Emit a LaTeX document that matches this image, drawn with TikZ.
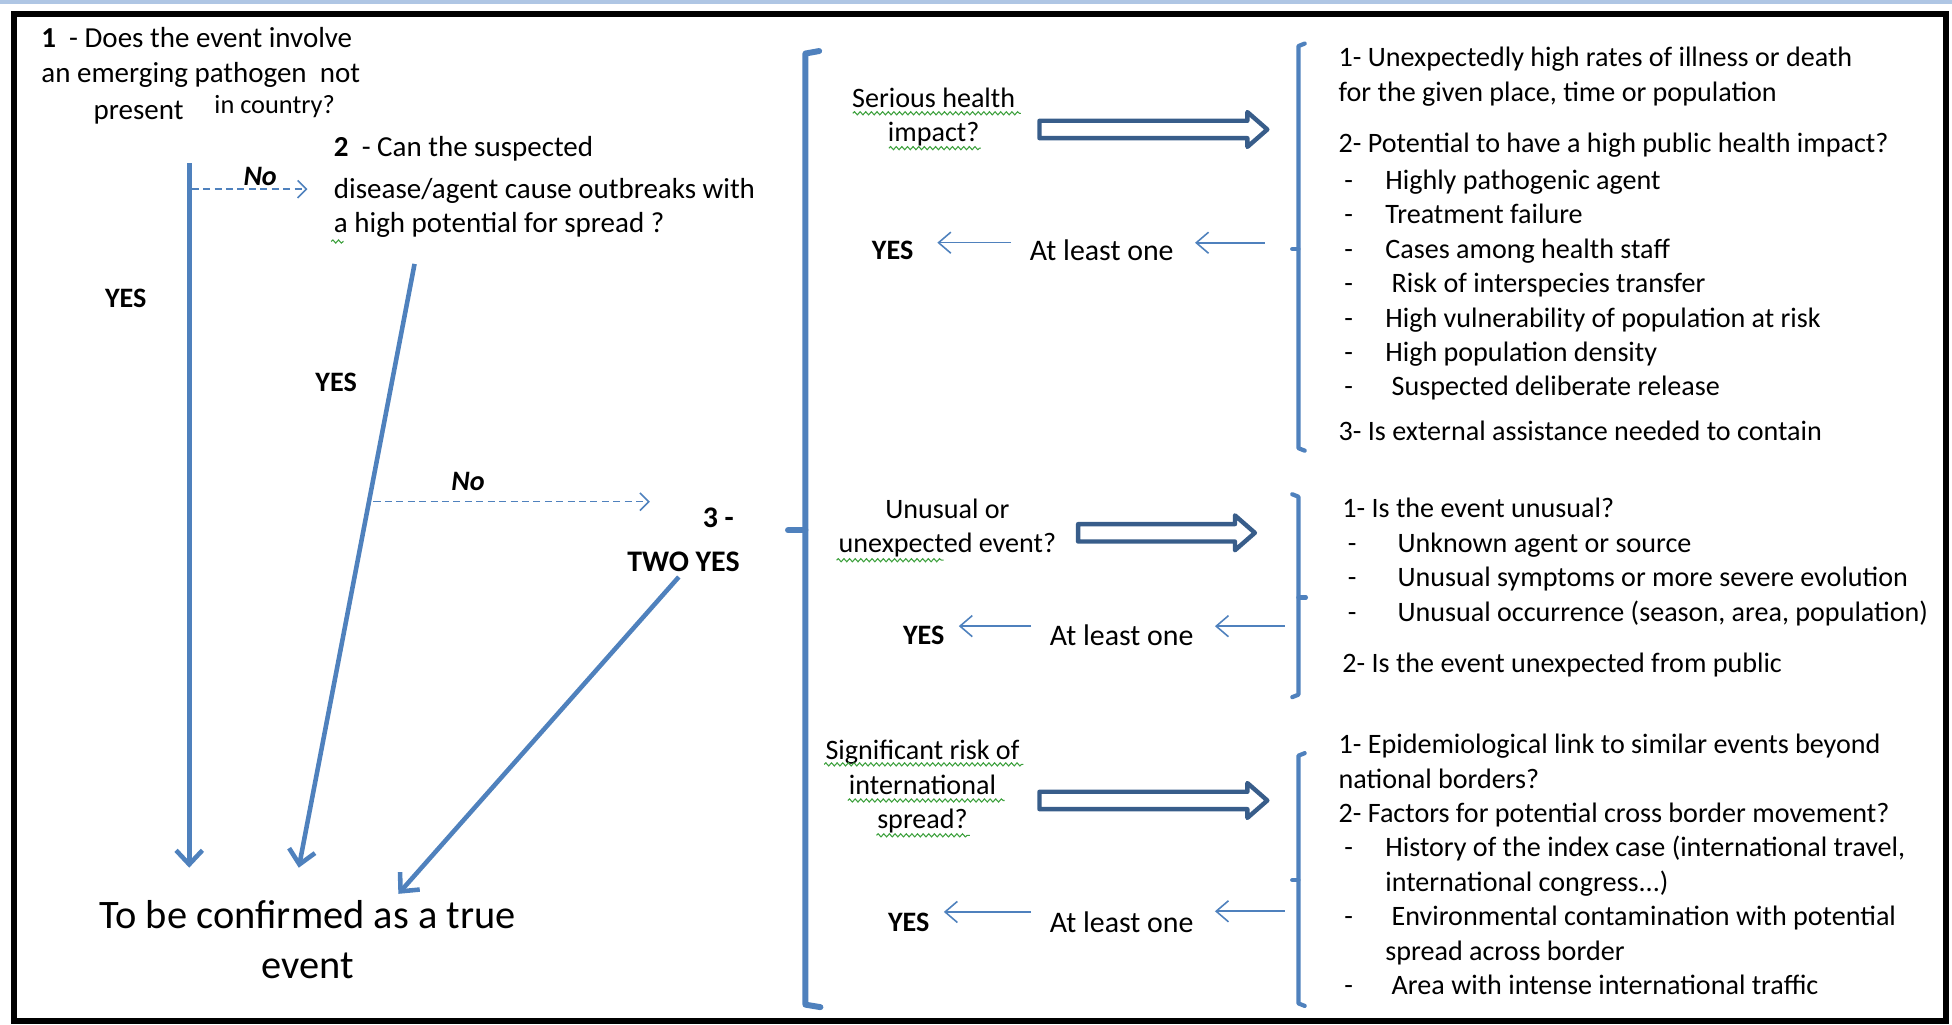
\documentclass[tikz,border=0pt]{standalone}
\usepackage{fontspec}
\setmainfont{Carlito}
\usepackage{xcolor}
\usepackage{tikz}
\usetikzlibrary{arrows.meta}
\usetikzlibrary{decorations.pathmorphing}

\definecolor{myblue}{RGB}{79,129,189}
\definecolor{darkblue}{RGB}{56,93,138}
\definecolor{spellgreen}{RGB}{60,160,60}
\definecolor{topblue}{RGB}{175,198,228}
\newcommand{\lstdash}[1][23.4pt]{\hspace*{3.2pt}\makebox[#1][l]{-}}

\begin{document}
\begin{tikzpicture}[x=0.0249cm,y=-0.0249cm,
	txt/.style={inner sep=0pt,font=\fontsize{16}{19.6}\selectfont},
	lst/.style={txt,anchor=base west,align=left},
	mid/.style={txt,align=center},
	bld/.style={inner sep=0pt,font=\fontsize{16}{19.6}\selectfont\bfseries},
	no/.style={inner sep=0pt,font=\fontsize{16}{19.6}\selectfont\bfseries\itshape},
	bluearrow/.style={draw=myblue,line width=2.6pt,-{Straight Barb[length=8pt,width=15pt]}},
	dasharrow/.style={draw=myblue,line width=0.9pt,dash pattern=on 4pt off 2.5pt,-{Straight Barb[length=5pt,width=10pt]}},
	thinarrow/.style={draw=myblue,line width=0.9pt,-{Straight Barb[length=7pt,width=12pt]}},
	hollow/.style={draw=darkblue,line width=2.5pt,fill=white,line join=round},
	bracket/.style={draw=myblue,line width=2.4pt,line cap=round,line join=round},
	squiggle/.style={draw=spellgreen,line width=0.6pt,decorate,decoration={snake,amplitude=0.9pt,segment length=3.2pt}}]
	\useasboundingbox (0,0) rectangle (1568,823);
	% frame
	\draw[topblue,line width=2pt] (0,1.4) -- (1568,1.4);
	\draw[line width=3.2pt] (11,11) rectangle (1563,820);

	% left part: questions 1 and 2 (base = last line)
	\node[lst,font=\fontsize{16.5}{19.8}\selectfont] (q1) at (33,66) {\textbf{1}\ \ - Does the event involve\\an emerging pathogen\ \ not};
	\node[lst,font=\fontsize{16.5}{19.8}\selectfont] (q1b) at (75,96) {present};
	\node[lst,font=\fontsize{15}{18}\selectfont] (q1c) at (172,91) {in country?};
	\node[lst,font=\fontsize{16.5}{19.8}\selectfont] (q2) at (268,187) {\textbf{2}\ \ - Can the suspected\\[3.6pt]disease/agent cause outbreaks with\\a high potential for spread ?};
	\node[bld] (yes1) at (101,240) {YES};
	\node[bld] (yes2) at (270,307) {YES};
	\node[no] (no1) at (209,142) {No};
	\node[no] (no2) at (376,387) {No};
	\node[bld,font=\fontsize{17}{20}\selectfont\bfseries] (q3) at (577,416) {3 -};
	\node[bld,font=\fontsize{17}{20}\selectfont\bfseries] (twoyes) at (549,451) {TWO YES};
	\node[txt,align=center,font=\fontsize{23}{28.3}\selectfont] (confirm) at (247,755) {To be confirmed as a true\\event};

	\coordinate (s1) at (152,131);
	\coordinate (e1) at (152,697);
	\coordinate (s2) at (333,212);
	\coordinate (e2) at (240,697);
	\coordinate (e3) at (320,718);
	\coordinate (n1) at (154,152);
	\coordinate (m1) at (247,152);
	\coordinate (n2) at (300,403);
	\coordinate (m2) at (522,403);
	\draw[bluearrow] (s1) -- (e1);
	\draw[bluearrow] (s2) -- (e2);
	\draw[bluearrow,shorten <=4pt] (twoyes.south) -- (e3);
	\draw[dasharrow] (n1) -- (m1);
	\draw[dasharrow] (n2) -- (m2);
	\draw[squiggle] (266,194) -- (276,194);

	% big bracket
	\draw[bracket,line width=3.4pt] (658,41) -- (647,43) -- (647,807) -- (659,809);
	\draw[bracket,line width=3.4pt] (647,426) -- (633,426);

	% criteria questions
	\node[mid] (crit1) at (750,94) {Serious health\\impact?};
	\node[mid] (crit2) at (761,424) {Unusual or\\unexpected event?};
	\node[mid] (crit3) at (741,632) {Significant risk of\\international\\spread?};
	\draw[squiggle] (685,91) -- (820,91);
	\draw[squiggle] (714,119) -- (788,119);
	\draw[squiggle] (672,450) -- (758,450);
	\draw[squiggle] (662,614) -- (822,614);
	\draw[squiggle] (681,643) -- (807,643);
	\draw[squiggle] (704,671) -- (779,671);

	\foreach \xa/\xb/\ya in {835/1018/104, 866/1008/428, 835/1018/643}
		\draw[hollow] (\xa,\ya-7) -- (\xb-16,\ya-7) -- (\xb-16,\ya-14) -- (\xb,\ya) -- (\xb-16,\ya+14) -- (\xb-16,\ya+7) -- (\xa,\ya+7) -- cycle;

	\node[bld] (yesa) at (717,201) {YES};
	\node[bld] (yesb) at (742,510) {YES};
	\node[bld] (yesc) at (730,741) {YES};
	\node[txt,font=\fontsize{17}{20}\selectfont] (atla) at (885,201) {At least one};
	\node[txt,font=\fontsize{17}{20}\selectfont] (atlb) at (901,510) {At least one};
	\node[txt,font=\fontsize{17}{20}\selectfont] (atlc) at (901,741) {At least one};
	\coordinate (ra) at (1016,195);
	\coordinate (rb) at (1032,503);
	\coordinate (rc) at (1032,732);
	\draw[thinarrow,shorten >=12pt] (ra) -- (ra -| atla.east);
	\draw[thinarrow,shorten >=12pt] (rb) -- (rb -| atlb.east);
	\draw[thinarrow,shorten >=12pt] (rc) -- (rc -| atlc.east);
	\draw[thinarrow,shorten <=10.5pt,shorten >=13.5pt] ([yshift=4.3pt]atla.west) -- ([yshift=4.3pt]atla.west -| yesa.east);
	\draw[thinarrow,shorten <=10.5pt,shorten >=8pt] ([yshift=5pt]atlb.west) -- ([yshift=5pt]atlb.west -| yesb.east);
	\draw[thinarrow,shorten <=10.5pt,shorten >=8pt] ([yshift=6pt]atlc.west) -- ([yshift=6pt]atlc.west -| yesc.east);

	% right brackets
	\draw[bracket] (1048,35) -- (1043,37) -- (1043,360) -- (1048,362);
	\draw[bracket] (1043,200) -- (1038,200);
	\draw[bracket] (1038,397) -- (1043,399) -- (1043,558) -- (1038,560);
	\draw[bracket] (1043,480) -- (1049,480);
	\draw[bracket] (1048,605) -- (1043,607) -- (1043,806) -- (1048,808);
	\draw[bracket] (1043,707) -- (1038,707);

	% lists of criteria (base = last line)
	\node[lst] (lista) at (1075,354) {1- Unexpectedly high rates of illness or death\\
		for the given place, time or population\\[9.4pt]
		2- Potential to have a high public health impact?\\[1.6pt]
		\lstdash Highly pathogenic agent\\
		\lstdash Treatment failure\\
		\lstdash Cases among health staff\\
		\lstdash\ Risk of interspecies transfer\\
		\lstdash High vulnerability of population at risk\\
		\lstdash High population density\\
		\lstdash\ Suspected deliberate release\\[5.9pt]
		3- Is external assistance needed to contain};
	\node[lst] (listb) at (1078,540) {1- Is the event unusual?\\
		\lstdash[24.6pt] Unknown agent or source\\
		\lstdash[24.6pt] Unusual symptoms or more severe evolution\\
		\lstdash[24.6pt] Unusual occurrence (season, area, population)\\[9.4pt]
		2- Is the event unexpected from public};
	\node[lst] (listc) at (1075,799) {1- Epidemiological link to similar events beyond\\
		national borders?\\
		2- Factors for potential cross border movement?\\
		\lstdash History of the index case (international travel,\\
		\hspace*{26.6pt}international congress...)\\
		\lstdash\ Environmental contamination with potential\\
		\hspace*{26.6pt}spread across border\\
		\lstdash\ Area with intense international traffic};
\end{tikzpicture}
\end{document}
